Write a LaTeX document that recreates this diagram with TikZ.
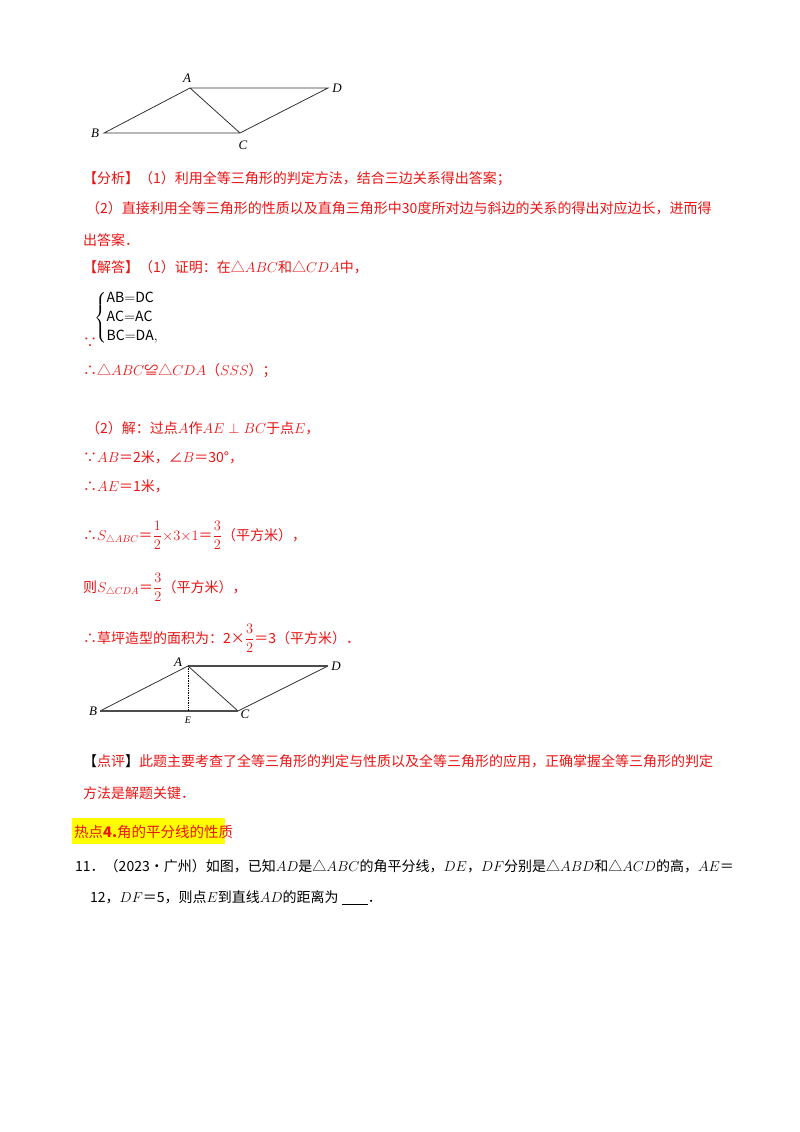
\documentclass[tikz,border=0pt]{standalone}
\usepackage{amsmath,amssymb}
\usepackage{fontspec}
\setmainfont{Noto Sans CJK SC}
\newfontfamily\lat{Liberation Serif}
\definecolor{rd}{RGB}{235,20,20}
\definecolor{hl}{RGB}{255,255,0}
\begin{document}
\begin{tikzpicture}[x=1pt,y=-1pt,
  t/.style={anchor=base west,inner sep=0pt,font=\fontsize{14}{16}\selectfont},
  r/.style={t,text=rd},
  lab/.style={inner sep=1pt,font=\lat\itshape\fontsize{13}{13}\selectfont},
  seg/.style={line width=0.8pt,black!80}]
\useasboundingbox[fill=white] (0,0) rectangle (800,1132);
% diagram 1
\coordinate (A) at (190,88); \coordinate (D) at (328,88);
\coordinate (B) at (104,133); \coordinate (C) at (240,133);
\draw[seg] (A)--(D)--(C)--(B)--(A)--(C);
\node[lab] (lA) at (187,78) {A}; \node[lab] (lD) at (337,88) {D};
\node[lab] (lB) at (95,133) {B}; \node[lab] (lC) at (243,145) {C};
% text
\node[r] (t1) at (83,183) {【分析】（1）利用全等三角形的判定方法，结合三边关系得出答案；};
\node[r] (t2) at (86,213) {（2）直接利用全等三角形的性质以及直角三角形中30度所对边与斜边的关系的得出对应边长，进而得};
\node[r] (t3) at (83,245) {出答案．};
\node[r] (t4) at (83,272) {【解答】（1）证明：在△$ABC$和△$CDA$中，};
\node[t,anchor=west] (sys) at (94,318) {$\left\{\begin{array}{@{}l@{}}\mathrm{AB{=}DC}\\[3pt]\mathrm{AC{=}AC}\\[3pt]\mathrm{BC{=}DA},\end{array}\right.$};
\node[r] (because) at (83,347) {∵};
\node[r] (t5) at (83,375) {∴△$ABC$≌△$CDA$（$SSS$）；};
\node[r] (t6) at (86,433) {（2）解：过点$A$作$AE\perp BC$于点$E$，};
\node[r] (t7) at (83,462) {∵$AB$＝2米，∠$B$＝30°，};
\node[r] (t8) at (83,491) {∴$AE$＝1米，};
\node[r] (t9) at (83,540) {∴$S_{\triangle ABC}$＝$\dfrac{1}{2}{\times}3{\times}1$＝$\dfrac{3}{2}$（平方米），};
\node[r] (t10) at (83,592) {则$S_{\triangle CDA}$＝$\dfrac{3}{2}$（平方米），};
\node[r] (t11) at (83,643) {∴草坪造型的面积为：2×$\dfrac{3}{2}$＝3（平方米）．};
% diagram 2
\coordinate (A2) at (188,666); \coordinate (D2) at (328,666);
\coordinate (B2) at (100,711); \coordinate (C2) at (238,711);
\coordinate (E2) at (188,711);
\draw[seg] (B2)--(A2)--(C2)--(D2);
\draw[line width=1.4pt,black!70] (A2)--(D2) (B2)--(C2);
\draw[densely dotted,line width=0.7pt] (A2)--(E2);
\node[lab] (lA2) at (178,662) {A}; \node[lab] (lD2) at (336,666) {D};
\node[lab] (lB2) at (93,711) {B}; \node[lab] (lC2) at (245,714) {C};
\node[lab,font=\lat\itshape\fontsize{10}{10}\selectfont] (lE2) at (188,720) {E};
\node[r] (t12) at (83,766) {\textcolor{black}{【}点评\textcolor{black}{】}此题主要考查了全等三角形的判定与性质以及全等三角形的应用，正确掌握全等三角形的判定};
\node[r] (t13) at (83,798) {方法是解题关键．};
\fill[hl] (72,818) rectangle (225,844);
\node[r,font=\fontsize{14.5}{18}\selectfont] (h) at (74,837) {热点\textbf{4.}角的平分线的性质};
\node[t] (q1) at (75,871) {11．（2023•广州）如图，已知$AD$是△$ABC$的角平分线，$DE$，$DF$分别是△$ABD$和△$ACD$的高，$AE$＝};
\node[t] (q2) at (90,902) {12，$DF$＝5，则点$E$到直线$AD$的距离为 \underline{\hspace{26pt}}．};
\end{tikzpicture}
\end{document}
